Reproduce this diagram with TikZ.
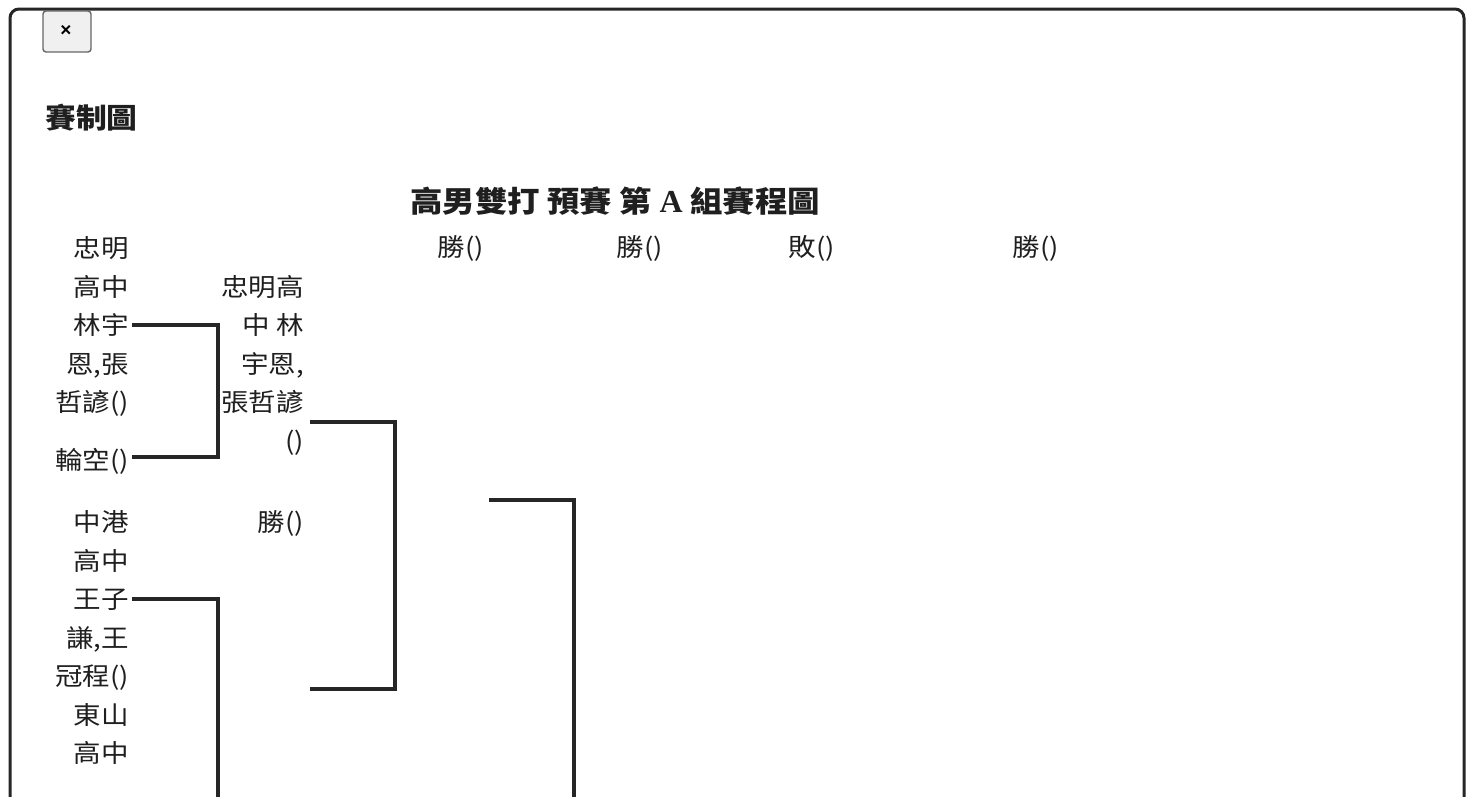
\documentclass[tikz,border=0pt]{standalone}
\usepackage{fontspec}
\newfontfamily\cjk[FakeStretch=1.1]{Noto Sans CJK TC}
\newfontfamily\serifA{Liberation Serif}
\newfontfamily\uifont{Liberation Sans}
\usetikzlibrary{positioning}

\begin{document}
\begin{tikzpicture}[x=1pt,y=-1pt]
\tikzstyle{team} = [anchor=base east, inner sep=0pt, text=black!88, font=\cjk\fontsize{25}{25}\selectfont]
\tikzstyle{slot} = [anchor=base, inner sep=0pt, text=black!88, font=\cjk\fontsize{25}{25}\selectfont]
\tikzstyle{bracket} = [line width=4pt, draw=black!85]

\useasboundingbox (0,0) rectangle (1472,796);
\clip (0,0) rectangle (1472,796);
\fill[white] (0,0) rectangle (1472,796);

% dialog frame and close button
\draw[line width=3pt, draw=black!85, rounded corners=9pt] (10,830) -- (10,9) -- (1464,9) -- (1464,830);
\draw[fill=black!6, draw=black!60, line width=1.4pt, rounded corners=3pt] (43,11) rectangle (91,52);
\node[inner sep=0pt, font=\uifont\bfseries\fontsize{19}{19}\selectfont] (close) at (66,31) {×};

% titles
\node[anchor=base west, inner sep=0pt, text=black!88, font=\cjk\bfseries\fontsize{28}{28}\selectfont] (title) at (45,128) {賽制圖};
\node[anchor=base west, inner sep=0pt, text=black!88, font=\cjk\bfseries\fontsize{29.5}{29.5}\selectfont] (head) at (410,212)
  {高男雙打 預賽 第 {\serifA\bfseries\fontsize{32}{32}\selectfont A} 組賽程圖};

% round labels
\node[slot] (w1) at (461,256) {勝()};
\node[slot] (w2) at (640,256) {勝()};
\node[slot] (l3) at (812,256) {敗()};
\node[slot] (w4) at (1036,256) {勝()};

% first column
\node[team] (a1) at (129,257.5) {忠明};
\node[team] (a2) at (129,296) {高中};
\node[team] (a3) at (129,334.5) {林宇};
\node[team] (a4) at (129,373) {恩,張};
\node[team] (a5) at (129,411.5) {哲諺()};
\node[team] (a6) at (129,469.5) {輪空()};
\node[team] (b1) at (129,531.5) {中港};
\node[team] (b2) at (129,570) {高中};
\node[team] (b3) at (129,608.5) {王子};
\node[team] (b4) at (129,647) {謙,王};
\node[team] (b5) at (129,685.5) {冠程()};
\node[team] (c1) at (129,724) {東山};
\node[team] (c2) at (129,762.5) {高中};

% second column
\node[team] (s1) at (304,296) {忠明高};
\node[team] (s2) at (304,334.5) {中 林};
\node[team] (s3) at (304,373) {宇恩,};
\node[team] (s4) at (304,411.5) {張哲諺};
\node[team] (s5) at (304,450) {()};
\node[team] (s6) at (304,531.5) {勝()};

% bracket ends
\coordinate (k1a) at (132,325);
\coordinate (k1b) at (132,457);
\coordinate (k2a) at (310,422);
\coordinate (k2b) at (310,689);
\coordinate (k3a) at (132,599);
\coordinate (k3b) at (218,810);
\coordinate (k4a) at (489,500);
\coordinate (k4b) at (574,810);

\draw[bracket] (k1a) -- ++(86,0) |- (k1b);
\draw[bracket] (k2a) -- ++(85,0) |- (k2b);
\draw[bracket] (k3a) -| (k3b);
\draw[bracket] (k4a) -| (k4b);

\end{tikzpicture}
\end{document}
